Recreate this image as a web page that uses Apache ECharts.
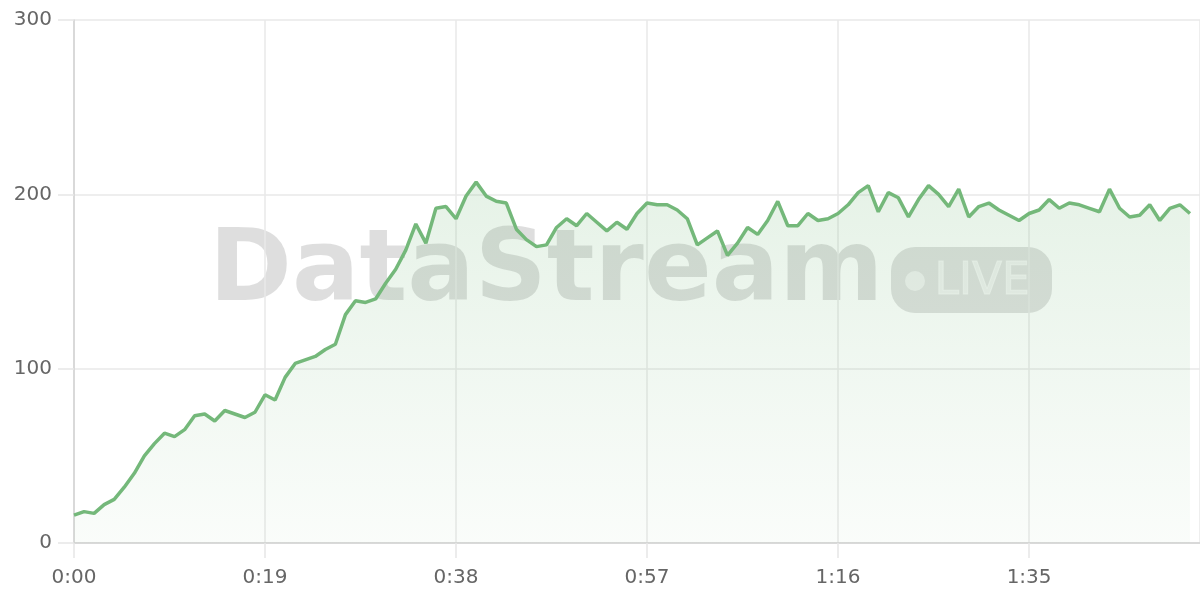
<!DOCTYPE html>
<html>
<head>
<meta charset="utf-8">
<script src="https://cdn.jsdelivr.net/npm/echarts@6/dist/echarts.min.js"></script>
<style>
html,body{margin:0;padding:0;background:#fff;}
#chart{width:1200px;height:600px;}
</style>
</head>
<body>
<div id="chart"></div>
<script>
// one sample per second (0..111)
const values = [
  16,18,17,22,25,32,40,50,57,63,61,65,73,74,70,76,74,72,75,85,82,
  95,103,105,107,111,114,131,139,138,140,149,157,168,183,172,192,193,186,199,207,
  199,196,195,180,174,170,171,181,186,182,189,184,179,184,180,189,195,194,194,191,
  186,171,175,179,165,172,181,177,185,196,182,182,189,185,186,189,194,201,205,190,
  201,198,187,197,205,200,193,203,187,193,195,191,188,185,189,191,197,192,195,194,
  192,190,203,192,187,188,194,185,192,194,189
];
const xMin = 0, xMax = 112, xInterval = 19;
const yMin = 0, yMax = 300, yInterval = 100;
const watermarkText = 'DataStream';
const badgeText = 'LIVE';

const seriesData = values.map((v, i) => [i, v]);

function fmtTime(s) {
  const m = Math.floor(s / 60);
  const ss = Math.round(s % 60);
  return m + ':' + (ss < 10 ? '0' : '') + ss;
}

const chart = echarts.init(document.getElementById('chart'), null, {renderer: 'canvas'});
const FONT = 'DejaVu Sans';
chart.setOption({
  animation: false,
  backgroundColor: '#ffffff',
  grid: {left: 74, right: 0, top: 20, bottom: 57, containLabel: false},
  graphic: [
    {
      type: 'text', z: -10, left: 209, top: 224, silent: true,
      style: {text: watermarkText, fontFamily: FONT, fontWeight: 'bold', fontSize: 100, fill: 'rgba(0,0,0,0.13)'}
    },
    {
      type: 'rect', z: -10, silent: true,
      shape: {x: 891, y: 247, width: 161, height: 66, r: 24},
      style: {fill: 'rgba(0,0,0,0.12)'}
    },
    {
      type: 'circle', z: -9, silent: true,
      shape: {cx: 915, cy: 281, r: 10},
      style: {fill: 'rgba(255,255,255,0.55)'}
    },
    {
      type: 'text', z: -9, left: 934, top: 260, silent: true,
      style: {text: badgeText, fontFamily: FONT, fontSize: 44, fill: 'rgba(255,255,255,0.5)',
              stroke: 'rgba(255,255,255,0.5)', lineWidth: 1}
    }
  ],
  xAxis: {
    type: 'value', min: xMin, max: xMax, interval: xInterval,
    axisLine: {show: true, lineStyle: {color: '#d2d2d2', width: 1.5}},
    axisTick: {show: true, length: 15, lineStyle: {color: '#e6e6e6', width: 1.5}},
    splitLine: {show: true, lineStyle: {color: '#e8e8e8', width: 1.5}},
    axisLabel: {
      color: '#666', fontFamily: FONT, fontSize: 20, margin: 25,
      showMaxLabel: false, formatter: fmtTime
    }
  },
  yAxis: {
    type: 'value', min: yMin, max: yMax, interval: yInterval,
    axisLine: {show: true, lineStyle: {color: '#d2d2d2', width: 1.5}},
    axisTick: {show: true, length: 16, lineStyle: {color: '#e6e6e6', width: 1.5}},
    splitLine: {show: true, lineStyle: {color: '#e8e8e8', width: 1.5}},
    axisLabel: {color: '#666', fontFamily: FONT, fontSize: 20, margin: 22}
  },
  series: [{
    type: 'line',
    data: seriesData,
    showSymbol: false,
    symbol: 'none',
    smooth: false,
    lineStyle: {color: '#74b87a', width: 3.5},
    areaStyle: {
      color: new echarts.graphic.LinearGradient(0, 0, 0, 1, [
        {offset: 0, color: 'rgba(116,184,122,0.26)'},
        {offset: 1, color: 'rgba(116,184,122,0.05)'}
      ])
    },
    z: 2
  }]
});
</script>
</body>
</html>
